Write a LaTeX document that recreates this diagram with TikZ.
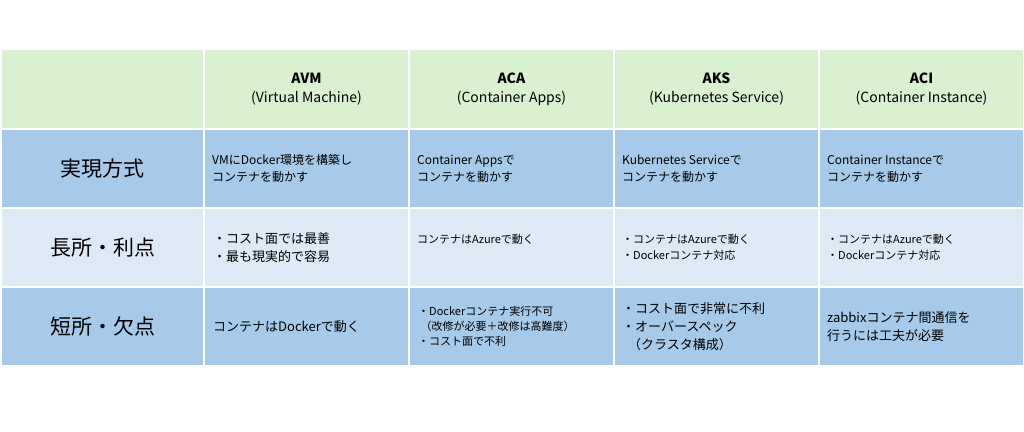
\documentclass[tikz,border=0pt]{standalone}
\usepackage{fontspec}
\setmainfont{Noto Sans CJK JP}
\usetikzlibrary{positioning}
\definecolor{headgreen}{HTML}{D9F1D1}
\definecolor{rowdark}{HTML}{A7C9EA}
\definecolor{rowlight}{HTML}{DDE9F5}

\begin{document}
\begin{tikzpicture}[x=1pt, y=-1pt,
    cell/.style={rectangle, draw=white, line width=2pt, minimum width=205pt,
      minimum height=79pt, anchor=north west, inner sep=0pt},
    txt/.style={anchor=west, align=left, font=\fontsize{12}{17}\selectfont, inner sep=0pt},
    head/.style={align=center, font=\fontsize{14}{19}\selectfont},
    rowlab/.style={font=\fontsize{21}{25}\selectfont}]
  \useasboundingbox (0,0) rectangle (1024,431);

  % header row
  \node[cell, fill=headgreen, minimum width=203pt, minimum height=80pt] (h0) at (0,48) {};
  \foreach \i/\n in {1/AVM, 2/ACA, 3/AKS, 4/ACI}
    \node[cell, fill=headgreen, minimum height=80pt] (h\i) at ({203+(\i-1)*205},48) {};
  % body rows
  \foreach \r/\y/\c in {1/128/rowdark, 2/207/rowlight, 3/286/rowdark} {
    \node[cell, fill=\c, minimum width=203pt] (c\r0) at (0,\y) {};
    \foreach \i in {1,...,4}
      \node[cell, fill=\c] (c\r\i) at ({203+(\i-1)*205},\y) {};
  }

  \node[head] (t1) at (h1) {\textbf{AVM}\\(Virtual Machine)};
  \node[head] (t2) at (h2) {\textbf{ACA}\\(Container Apps)};
  \node[head] (t3) at (h3) {\textbf{AKS}\\(Kubernetes Service)};
  \node[head] (t4) at (h4) {\textbf{ACI}\\(Container Instance)};

  \node[rowlab] (l1) at (c10) {実現方式};
  \node[rowlab] (l2) at (c20) {長所・利点};
  \node[rowlab] (l3) at (c30) {短所・欠点};

  \node[txt] (x11) at ([xshift=9pt]c11.west) {VMにDocker環境を構築し\\コンテナを動かす};
  \node[txt] (x12) at ([xshift=9pt]c12.west) {Container Appsで\\コンテナを動かす};
  \node[txt] (x13) at ([xshift=9pt]c13.west) {Kubernetes Serviceで\\コンテナを動かす};
  \node[txt] (x14) at ([xshift=9pt]c14.west) {Container Instanceで\\コンテナを動かす};

  \node[txt, font=\fontsize{13}{18}\selectfont] (x21) at ([xshift=10pt]c21.west) {・コスト面では最善\\・最も現実的で容易};
  \node[txt, font=\fontsize{11}{16}\selectfont] (x22) at ([xshift=9pt, yshift=8pt]c22.west) {コンテナはAzureで動く};
  \node[txt, font=\fontsize{11}{16}\selectfont] (x23) at ([xshift=9pt]c23.west) {・コンテナはAzureで動く\\・Dockerコンテナ対応};
  \node[txt, font=\fontsize{11}{16}\selectfont] (x24) at ([xshift=9pt]c24.west) {・コンテナはAzureで動く\\・Dockerコンテナ対応};

  \node[txt, font=\fontsize{13}{18}\selectfont] (x31) at ([xshift=10pt]c31.west) {コンテナはDockerで動く};
  \node[txt, font=\fontsize{11}{15}\selectfont] (x32) at ([xshift=10pt]c32.west) {・Dockerコンテナ実行不可\\\ （改修が必要＋改修は高難度）\\・コスト面で不利};
  \node[txt, font=\fontsize{13}{18}\selectfont] (x33) at ([xshift=9pt]c33.west) {・コスト面で非常に不利\\・オーバースペック\\\ \ （クラスタ構成）};
  \node[txt, font=\fontsize{13}{18}\selectfont] (x34) at ([xshift=9pt]c34.west) {zabbixコンテナ間通信を\\行うには工夫が必要};
\end{tikzpicture}
\end{document}
